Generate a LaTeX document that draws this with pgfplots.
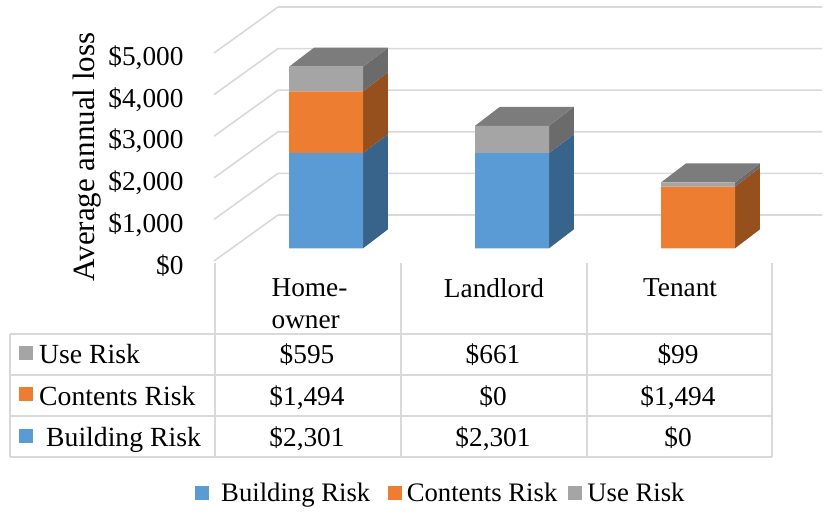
\documentclass[border=0pt]{standalone}
\usepackage{fontspec}
\setmainfont{Liberation Serif}
\usepackage{pgfplots}
\pgfplotsset{compat=1.18}
\definecolor{cB}{HTML}{5B9BD5}\definecolor{cO}{HTML}{ED7D31}\definecolor{cG}{HTML}{A5A5A5}
\definecolor{sB}{HTML}{38648C}\definecolor{sO}{HTML}{96501E}\definecolor{sG}{HTML}{6B6B6B}
\definecolor{tG}{HTML}{7C7C7C}\definecolor{gl}{HTML}{D9D9D9}
\newcommand{\tf}{\fontsize{27.3}{32}\selectfont}
\newcommand{\lf}{\fontsize{27.7}{32}\selectfont}
\newcommand{\gf}{\fontsize{26.7}{32}\selectfont}
\begin{document}
\begin{tikzpicture}[x=1pt,y=1pt]
\useasboundingbox (0,0) rectangle (826,514);
% frame: gridlines, y ticks
\begin{axis}[at={(214pt,253pt)},anchor=south west,scale only axis,width=612pt,height=208pt,
 xmin=214,xmax=826,ymin=0,ymax=5000,clip=false,axis line style={draw=none},
 xtick=\empty,ytick={0,1000,2000,3000,4000,5000},
 yticklabels={{\$0\hspace{13pt}},{\$1,000},{\$2,000},{\$3,000},{\$4,000},{\$5,000}},
 yticklabel style={font=\tf,xshift=-27pt,yshift=-5pt,anchor=east},major tick length=0pt,
 ylabel={Average annual loss},
 ylabel style={font=\fontsize{31}{37}\selectfont,at={(axis description cs:-0.207,0.50)},anchor=center,rotate=0}]
\addplot[gl,line width=1.6pt,no markers] coordinates {(214,0)(278,1106)(822,1106)};
\addplot[gl,line width=1.6pt,no markers] coordinates {(214,1000)(278,2106)(822,2106)};
\addplot[gl,line width=1.6pt,no markers] coordinates {(214,2000)(278,3106)(822,3106)};
\addplot[gl,line width=1.6pt,no markers] coordinates {(214,3000)(278,4106)(822,4106)};
\addplot[gl,line width=1.6pt,no markers] coordinates {(214,4000)(278,5106)(822,5106)};
\addplot[gl,line width=1.6pt,no markers] coordinates {(214,5000)(278,6106)(822,6106)};
\end{axis}
% depth faces of the bars
\begin{axis}[at={(214pt,265.7pt)},anchor=south west,scale only axis,width=612pt,height=206.8pt,
 xmin=-0.6022,xmax=2.688,ymin=0,ymax=5000,clip=false,hide axis]
\addplot[fill=sB,draw=none] coordinates {(0.199,0)(0.333,459)(0.333,2760)(0.199,2301)} --cycle;
\addplot[fill=sO,draw=none] coordinates {(0.199,2301)(0.333,2760)(0.333,4254)(0.199,3795)} --cycle;
\addplot[fill=sG,draw=none] coordinates {(0.199,3795)(0.333,4254)(0.333,4849)(0.199,4390)} --cycle;
\addplot[fill=tG,draw=none] coordinates {(-0.199,4390)(-0.065,4849)(0.333,4849)(0.199,4390)} --cycle;
\addplot[fill=sB,draw=none] coordinates {(1.199,0)(1.333,459)(1.333,2760)(1.199,2301)} --cycle;
\addplot[fill=sG,draw=none] coordinates {(1.199,2301)(1.333,2760)(1.333,3421)(1.199,2962)} --cycle;
\addplot[fill=tG,draw=none] coordinates {(0.801,2962)(0.935,3421)(1.333,3421)(1.199,2962)} --cycle;
\addplot[fill=sO,draw=none] coordinates {(2.199,0)(2.333,459)(2.333,1953)(2.199,1494)} --cycle;
\addplot[fill=sG,draw=none] coordinates {(2.199,1494)(2.333,1953)(2.333,2052)(2.199,1593)} --cycle;
\addplot[fill=tG,draw=none] coordinates {(1.801,1593)(1.935,2052)(2.333,2052)(2.199,1593)} --cycle;
\end{axis}
% table lines
\draw[gl,line width=1.5pt] (10,180)--(772,180) (10,139)--(772,139) (10,98)--(772,98) (10,57)--(772,57)
 (10,180)--(10,57) (215,251)--(215,57) (401,251)--(401,57) (587,251)--(587,57) (772,251)--(772,57);
% front faces
\begin{axis}[at={(214pt,265.7pt)},anchor=south west,scale only axis,width=612pt,height=206.8pt,
 xmin=-0.6022,xmax=2.688,ymin=0,ymax=5000,clip=false,
 ybar stacked,bar width=74pt,axis line style={draw=none},major tick length=0pt,
 ytick=\empty,xtick={0,1,2},xticklabels={\hspace*{3pt}Home-\\\hspace*{3pt}owner,Landlord,Tenant},
 xticklabel style={font=\tf,align=left,xshift=-18pt,yshift=-27pt},
 legend style={draw=none,fill=none,font=\gf,at={(-22pt,-230pt)},anchor=north west,
  legend columns=3,/tikz/column 2/.style={column sep=15.5pt},/tikz/column 4/.style={column sep=9pt}},
 legend image code/.code={\fill[#1] (0pt,-7pt) rectangle (14pt,7pt);}]
\addplot[fill=cB,draw=none] coordinates {(0,2301)(1,2301)(2,0)};
\addplot[fill=cO,draw=none] coordinates {(0,1494)(1,0)(2,1494)};
\addplot[fill=cG,draw=none] coordinates {(0,595)(1,661)(2,99)};
\legend{\hspace{10pt}Building Risk,\hspace{3pt}Contents Risk,\hspace{3pt}Use Risk}
\end{axis}
% table text
\fill[cG] (19,154) rectangle +(14,14);
\fill[cO] (19,113) rectangle +(14,14);
\fill[cB] (19,71) rectangle +(14,14);
\tikzset{c/.style={font=\tf,anchor=base}}
\node[font=\lf,anchor=base west,inner sep=0] at (39,150) {Use Risk};
\node[font=\lf,anchor=base west,inner sep=0] at (39,109) {Contents Risk};
\node[font=\lf,anchor=base west,inner sep=0] at (46,68) {Building Risk};
\node[c] at (307,150) {\$595}; \node[c] at (493,150) {\$661}; \node[c] at (678,150) {\$99};
\node[c] at (307,109) {\$1,494}; \node[c] at (493,109) {\$0}; \node[c] at (678,109) {\$1,494};
\node[c] at (307,68) {\$2,301}; \node[c] at (493,68) {\$2,301}; \node[c] at (678,68) {\$0};
\end{tikzpicture}
\end{document}
